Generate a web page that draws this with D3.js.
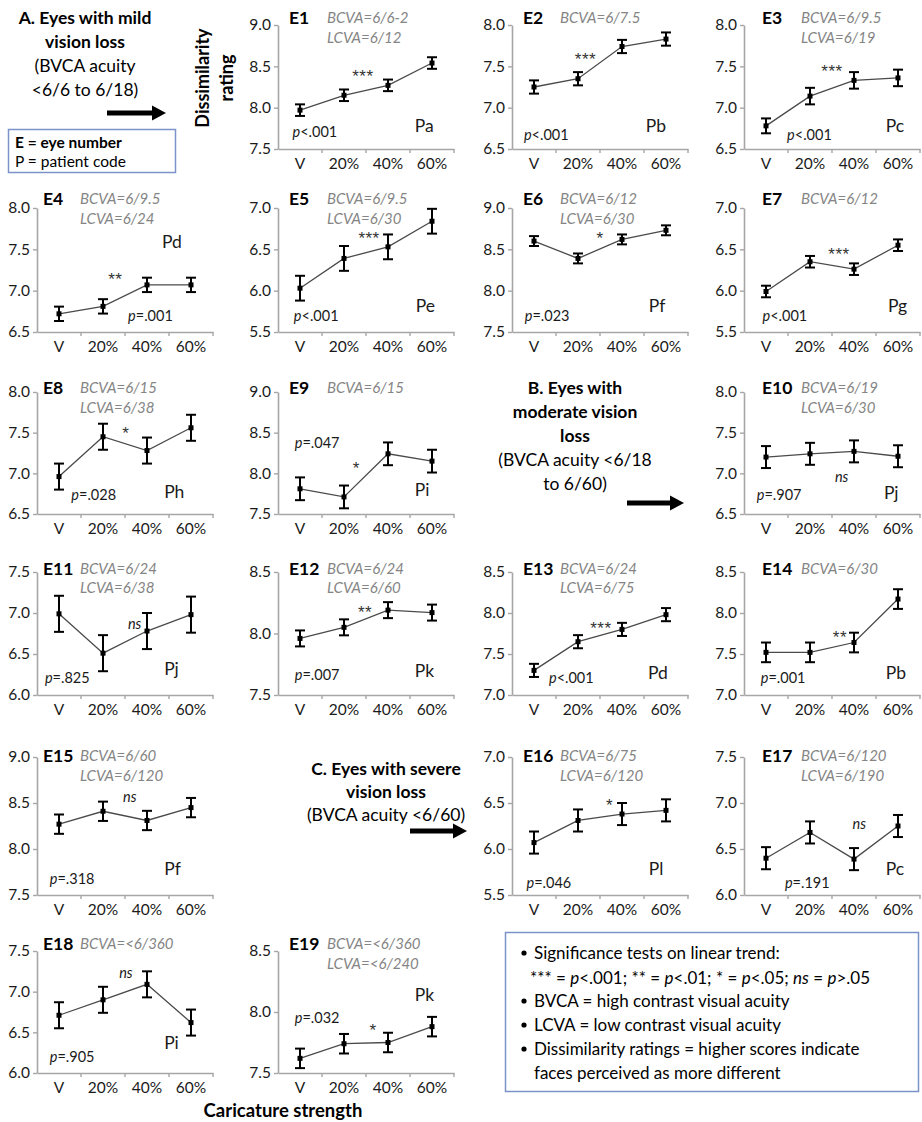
<!DOCTYPE html>
<html><head><meta charset="utf-8">
<script src="https://cdn.jsdelivr.net/npm/d3@7"></script>
<style>body{margin:0;background:#fff}</style>
</head><body><svg id="c" width="922" height="1122"></svg>
<script>
// ---------------- DATA ----------------
const categories = ["V", "20%", "40%", "60%"];
const panelNames = ["E1","E2","E3","E4","E5","E6","E7","E8","E9","E10","E11","E12","E13","E14","E15","E16","E17","E18","E19"];
const bcvaLabels = ["BCVA=6/6-2","BCVA=6/7.5","BCVA=6/9.5","BCVA=6/9.5","BCVA=6/9.5","BCVA=6/12","BCVA=6/12","BCVA=6/15","BCVA=6/15","BCVA=6/19","BCVA=6/24","BCVA=6/24","BCVA=6/24","BCVA=6/30","BCVA=6/60","BCVA=6/75","BCVA=6/120","BCVA=<6/360","BCVA=<6/360"];
const lcvaLabels = ["LCVA=6/12","","LCVA=6/19","LCVA=6/24","LCVA=6/30","LCVA=6/30","","LCVA=6/38","","LCVA=6/30","LCVA=6/38","LCVA=6/60","LCVA=6/75","","LCVA=6/120","LCVA=6/120","LCVA=6/190","","LCVA=<6/240"];
const patientCodes = ["Pa","Pb","Pc","Pd","Pe","Pf","Pg","Ph","Pi","Pj","Pj","Pk","Pd","Pb","Pf","Pl","Pc","Pi","Pk"];
const pLabels = ["<.001","<.001","<.001","=.001","<.001","=.023","<.001","=.028","=.047","=.907","=.825","=.007","<.001","=.001","=.318","=.046","=.191","=.905","=.032"];
const sigLabels = ["***","***","***","**","***","*","***","*","*","ns","ns","**","***","**","ns","*","ns","ns","*"];
const yDomains = [[7.5,9],[6.5,8],[6.5,8],[6.5,8],[5.5,7],[7.5,9],[5.5,7],[6.5,8],[7.5,9],[6.5,8],[6,7.5],[7.5,8.5],[7,8.5],[7,8.5],[7.5,9],[5.5,7],[6,7.5],[6,7.5],[7.5,8.5]];
const meanValues = [
  [7.97, 8.15, 8.27, 8.54],
  [7.25, 7.35, 7.74, 7.83],
  [6.78, 7.14, 7.33, 7.36],
  [6.72, 6.81, 7.07, 7.07],
  [6.03, 6.39, 6.53, 6.84],
  [8.60, 8.39, 8.62, 8.73],
  [5.99, 6.35, 6.26, 6.55],
  [6.96, 7.45, 7.28, 7.56],
  [7.81, 7.71, 8.24, 8.15],
  [7.20, 7.24, 7.27, 7.21],
  [6.99, 6.51, 6.78, 6.98],
  [7.96, 8.05, 8.19, 8.17],
  [7.30, 7.65, 7.80, 7.98],
  [7.52, 7.52, 7.64, 8.17],
  [8.27, 8.41, 8.31, 8.45],
  [6.07, 6.31, 6.38, 6.42],
  [6.40, 6.68, 6.39, 6.75],
  [6.71, 6.90, 7.09, 6.62],
  [7.62, 7.74, 7.75, 7.88]
];
const errValues = [
  [0.07,0.07,0.07,0.07],
  [0.08,0.08,0.08,0.08],
  [0.09,0.10,0.10,0.10],
  [0.087,0.087,0.087,0.087],
  [0.15,0.15,0.15,0.15],
  [0.06,0.06,0.06,0.06],
  [0.07,0.07,0.07,0.07],
  [0.16,0.16,0.16,0.16],
  [0.14,0.14,0.14,0.14],
  [0.135,0.135,0.135,0.135],
  [0.22,0.22,0.22,0.22],
  [0.065,0.065,0.065,0.065],
  [0.08,0.08,0.08,0.08],
  [0.12,0.12,0.12,0.12],
  [0.105,0.105,0.105,0.105],
  [0.12,0.12,0.12,0.12],
  [0.12,0.12,0.12,0.12],
  [0.16,0.16,0.16,0.16],
  [0.08,0.08,0.08,0.08]
];

// ---------------- LAYOUT (kept separate from data) ----------------
const panelCol = [1,2,3,0,1,2,3,0,1,3,0,1,2,3,0,2,3,0,1];
const panelRow = [0,0,0,1,1,1,1,2,2,2,3,3,3,3,4,4,4,5,5];
const colX = [37, 278, 512, 744];
const rowTop = [25, 208, 392, 572, 757, 951];
const rowBottom = [149, 332, 514, 695, 895, 1073];
const axisLen = 176;
const titleDx = [6, 11, 11, 18];
const bcvaDx = [43, 49, 48, 57];
const titleDy = [-8, -10, -5, -4, -2, -8];
const lcvaDy = [12, 10, 15, 15, 18, 12];
// annotation anchors in data coordinates [category position, value]
const sigAt = [[1.43,8.45],[1.17,7.66],[1.5,7.51],[1.28,7.21],[1.57,6.70],[1.5,8.70],[1.66,6.51],[1.52,7.56],[1.28,8.13],[1.72,6.96],[1.72,6.87],[1.48,8.22],[1.52,7.88],[1.68,7.77],[1.61,8.57],[1.72,6.54],[2.12,6.78],[1.52,7.23],[1.66,7.90]];
const pAt = [[-0.17,7.72],[-0.23,6.68],[0.48,6.68],[1.57,6.70],[-0.14,5.70],[-0.21,7.70],[-0.08,5.70],[0.28,6.74],[-0.12,8.39],[-0.21,6.74],[-0.32,6.22],[-0.12,7.67],[0.34,7.22],[-0.12,7.22],[-0.21,7.68],[-0.17,5.64],[0.43,6.14],[-0.21,6.21],[-0.12,7.96]];
const codeAt = [[2.61,7.78],[2.54,6.78],[2.72,6.78],[2.34,7.59],[2.63,5.82],[2.61,7.82],[2.77,5.82],[2.39,6.78],[2.61,7.80],[2.68,6.77],[2.39,6.32],[2.61,7.70],[2.59,7.28],[2.72,7.28],[2.39,7.79],[2.61,5.79],[2.72,6.29],[2.39,6.38],[2.61,8.14]];

const FONT = "Lato, 'Liberation Sans', sans-serif";
const AXIS = "#a6a6a6", TXT = "#1a1a1a", GREY = "#858585";

const svg = d3.select("#c").style("font-family", FONT);
svg.append("rect").attr("width", 922).attr("height", 1122).attr("fill", "#fff");

panelNames.forEach((name, i) => {
  const x0 = colX[panelCol[i]];
  const row = panelRow[i];
  const top = rowTop[row];
  const bottom = rowBottom[row];
  const dom = yDomains[i];
  const x = d3.scaleBand().domain(categories).range([x0, x0 + axisLen]).paddingInner(0).paddingOuter(0);
  const xPos = d3.scaleLinear().domain([-0.5, 3.5]).range([x0, x0 + axisLen]);
  const y = d3.scaleLinear().domain(dom).range([bottom, top]);
  const g = svg.append("g");

  // y axis
  const ya = d3.axisLeft(y).tickValues(d3.range(dom[0], dom[1] + 0.001, 0.5)).tickFormat(d3.format(".1f")).tickSize(4).tickPadding(3).tickSizeOuter(0);
  const yg = g.append("g").attr("transform", `translate(${x0},0)`).call(ya);
  yg.select(".domain").attr("stroke", AXIS).attr("stroke-width", 1.6);
  yg.selectAll(".tick line").attr("stroke", AXIS).attr("stroke-width", 1.4);
  yg.selectAll(".tick text").attr("fill", TXT).style("font-size", "15.5px").style("font-family", FONT);

  // x axis
  const xa = d3.axisBottom(x).tickSize(0).tickPadding(9).tickSizeOuter(0);
  const xg = g.append("g").attr("transform", `translate(0,${bottom})`).call(xa);
  xg.select(".domain").attr("stroke", AXIS).attr("stroke-width", 1.6);
  xg.selectAll(".tick text").attr("fill", TXT).style("font-size", "15.5px").style("font-family", FONT);
  xg.selectAll(".bt").data(categories).enter().append("line").attr("class", "bt")
    .attr("x1", d => x(d) + x.bandwidth()).attr("x2", d => x(d) + x.bandwidth())
    .attr("y1", 0).attr("y2", 4).attr("stroke", AXIS).attr("stroke-width", 1.4);

  const pts = categories.map((c, k) => ({c, m: meanValues[i][k], e: errValues[i][k]}));
  const cx = d => x(d.c) + x.bandwidth() / 2;

  // connecting line
  g.append("path").datum(pts)
    .attr("d", d3.line().x(cx).y(d => y(d.m)))
    .attr("fill", "none").attr("stroke", "#4a4a4a").attr("stroke-width", 1.3);

  // error bars
  const eb = g.selectAll(".eb").data(pts).enter().append("g");
  eb.append("line").attr("x1", cx).attr("x2", cx).attr("y1", d => y(d.m - d.e)).attr("y2", d => y(d.m + d.e)).attr("stroke", "#000").attr("stroke-width", 2);
  eb.append("line").attr("x1", d => cx(d) - 5).attr("x2", d => cx(d) + 5).attr("y1", d => y(d.m + d.e)).attr("y2", d => y(d.m + d.e)).attr("stroke", "#000").attr("stroke-width", 2);
  eb.append("line").attr("x1", d => cx(d) - 5).attr("x2", d => cx(d) + 5).attr("y1", d => y(d.m - d.e)).attr("y2", d => y(d.m - d.e)).attr("stroke", "#000").attr("stroke-width", 2);
  eb.append("rect").attr("x", d => cx(d) - 2.5).attr("y", d => y(d.m) - 2.5).attr("width", 5).attr("height", 5).attr("fill", "#000");

  // title + acuity
  const col = panelCol[i];
  g.append("text").attr("x", x0 + titleDx[col]).attr("y", top + titleDy[row]).attr("dominant-baseline", "central")
    .style("font-size", "17.5px").style("font-weight", "bold").attr("fill", "#000").text(name);
  g.append("text").attr("x", x0 + bcvaDx[col]).attr("y", top + titleDy[row]).attr("dominant-baseline", "central")
    .style("font-size", "15px").style("font-style", "italic").attr("fill", GREY).text(bcvaLabels[i]);
  if (lcvaLabels[i]) g.append("text").attr("x", x0 + bcvaDx[col]).attr("y", top + lcvaDy[row]).attr("dominant-baseline", "central")
    .style("font-size", "15px").style("font-style", "italic").attr("fill", GREY).text(lcvaLabels[i]);

  // significance
  const s = sigLabels[i];
  if (s === "ns") {
    g.append("text").attr("x", xPos(sigAt[i][0])).attr("y", y(sigAt[i][1]))
      .attr("text-anchor", "middle").attr("dominant-baseline", "central")
      .style("font-size", "14.5px").style("font-style", "italic").attr("fill", TXT).text(s);
  } else {
    g.append("text").attr("x", xPos(sigAt[i][0])).attr("y", y(sigAt[i][1]) + 6)
      .attr("text-anchor", "middle").attr("dominant-baseline", "central")
      .style("font-family", "'Liberation Sans', Arial, sans-serif")
      .style("font-size", "17px").style("letter-spacing", "0.5px").attr("fill", "#333").text(s);
  }

  // p value
  const pt = g.append("text").attr("x", xPos(pAt[i][0])).attr("y", y(pAt[i][1])).attr("dominant-baseline", "central")
    .style("font-size", "14.5px").attr("fill", TXT);
  pt.append("tspan").style("font-style", "italic").text("p");
  pt.append("tspan").text(pLabels[i]);

  // patient code
  g.append("text").attr("x", xPos(codeAt[i][0])).attr("y", y(codeAt[i][1])).attr("dominant-baseline", "central")
    .style("font-size", "17.5px").attr("fill", TXT).text(patientCodes[i]);
});

// ---------- side texts ----------
function lines(cx, ys, arr) {
  arr.forEach((t, k) => svg.append("text").attr("x", cx).attr("y", ys[k]).attr("text-anchor", "middle")
    .attr("dominant-baseline", "central").style("font-size", "17.5px")
    .style("font-weight", t[1] ? "bold" : "normal").attr("fill", "#000").text(t[0]));
}
lines(85, [17, 41, 65, 89], [["A. Eyes with mild", 1], ["vision loss", 1], ["(BVCA acuity", 0], ["<6/6 to 6/18)", 0]]);
lines(575, [387, 411, 435, 459, 483], [["B. Eyes with", 1], ["moderate vision", 1], ["loss", 1], ["(BVCA acuity <6/18", 0], ["to 6/60)", 0]]);
lines(386, [768, 791, 814], [["C. Eyes with severe", 1], ["vision loss", 1], ["(BVCA acuity <6/60)", 0]]);

function arrow(x1, x2, yv) {
  svg.append("line").attr("x1", x1).attr("x2", x2 - 12).attr("y1", yv).attr("y2", yv).attr("stroke", "#000").attr("stroke-width", 5);
  svg.append("path").attr("d", `M${x2 - 14},${yv - 7.5}L${x2},${yv}L${x2 - 14},${yv + 7.5}Z`).attr("fill", "#000");
}
arrow(107, 166, 113);
arrow(627, 684, 503);
arrow(410, 467, 831);

// key box
svg.append("rect").attr("x", 8.5).attr("y", 129.5).attr("width", 167).attr("height", 43).attr("fill", "none").attr("stroke", "#7b93c8").attr("stroke-width", 1.5);
svg.append("text").attr("x", 15).attr("y", 142).attr("dominant-baseline", "central").style("font-size", "15.5px").style("font-weight", "bold").text("E = eye number");
svg.append("text").attr("x", 15).attr("y", 161).attr("dominant-baseline", "central").style("font-size", "15.5px").text("P = patient code");

// y title
const yt = svg.append("g").attr("transform", "translate(214,78) rotate(-90)");
yt.append("text").attr("x", 0).attr("y", -12).attr("text-anchor", "middle").attr("dominant-baseline", "central").style("font-size", "18px").style("font-weight", "bold").text("Dissimilarity");
yt.append("text").attr("x", 0).attr("y", 12).attr("text-anchor", "middle").attr("dominant-baseline", "central").style("font-size", "18px").style("font-weight", "bold").text("rating");

// x title
svg.append("text").attr("x", 283).attr("y", 1110).attr("text-anchor", "middle").attr("dominant-baseline", "central").style("font-size", "18.5px").style("font-weight", "bold").text("Caricature strength");

// legend box
svg.append("rect").attr("x", 505.5).attr("y", 932.5).attr("width", 413).attr("height", 159).attr("fill", "none").attr("stroke", "#7b93c8").attr("stroke-width", 1.5);
const leg = [
  {b: true, x: 534, y: 952, parts: [["Significance tests on linear trend:", 0]]},
  {b: false, x: 530, y: 977, parts: [["*** = ", 0], ["p", 1], ["<.001; ** = ", 0], ["p", 1], ["<.01; * = ", 0], ["p", 1], ["<.05; ", 0], ["ns", 1], [" = ", 0], ["p", 1], [">.05", 0]]},
  {b: true, x: 534, y: 1000, parts: [["BVCA = high contrast visual acuity", 0]]},
  {b: true, x: 534, y: 1024, parts: [["LCVA = low contrast visual acuity", 0]]},
  {b: true, x: 534, y: 1048, parts: [["Dissimilarity ratings = higher scores indicate", 0]]},
  {b: false, x: 534, y: 1072, parts: [["faces perceived as more different", 0]]}
];
leg.forEach(l => {
  if (l.b) svg.append("circle").attr("cx", 524).attr("cy", l.y + 1).attr("r", 2.6).attr("fill", "#000");
  const t = svg.append("text").attr("x", l.x).attr("y", l.y).attr("dominant-baseline", "central").style("font-size", "17px").attr("fill", "#000");
  l.parts.forEach(p => t.append("tspan").style("font-style", p[1] ? "italic" : "normal").text(p[0]));
});
</script></body></html>
